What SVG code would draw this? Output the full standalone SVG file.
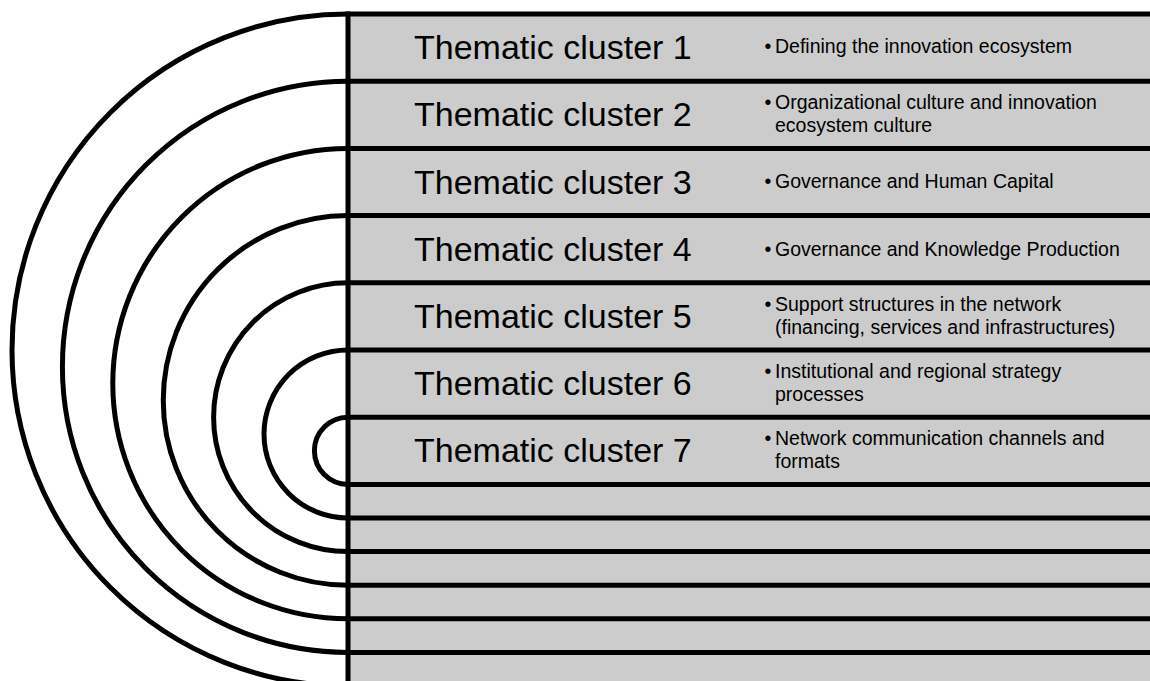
<svg xmlns="http://www.w3.org/2000/svg" width="1150" height="681" viewBox="0 0 1150 681">
<style>
.ln{stroke:#000;stroke-width:5;fill:none}
.title{font-family:"Liberation Sans",Arial,sans-serif;font-size:34px;fill:#000}
.item{font-family:"Liberation Sans",Arial,sans-serif;font-size:19.5px;fill:#000}
.bul{font-family:"Liberation Sans",Arial,sans-serif;font-size:19.5px;fill:#000;text-anchor:middle}
</style>
<rect width="1150" height="681" fill="#fff"/>
<rect x="348" y="14" width="802" height="667" fill="#cccccc"/>
<g id="connectors">
<path class="ln" d="M348,14 A336,336 0 0 0 348,686"/>
<path class="ln" d="M348,81.2 A285.6,285.6 0 0 0 348,652.4"/>
<path class="ln" d="M348,148.4 A235.2,235.2 0 0 0 348,618.8"/>
<path class="ln" d="M348,215.6 A184.8,184.8 0 0 0 348,585.2"/>
<path class="ln" d="M348,282.8 A134.4,134.4 0 0 0 348,551.6"/>
<path class="ln" d="M348,350 A84,84 0 0 0 348,518"/>
<path class="ln" d="M348,417.2 A33.6,33.6 0 0 0 348,484.4"/>
<path class="ln" d="M348,14H1150M348,81.2H1150M348,148.4H1150M348,215.6H1150M348,282.8H1150M348,350H1150M348,417.2H1150M348,484.4H1150M348,518H1150M348,551.6H1150M348,585.2H1150M348,618.8H1150M348,652.4H1150"/>
<path class="ln" d="M348,11.5V681"/>
</g>
<g id="cluster1">
<text class="title" x="414" y="59.1">Thematic cluster 1</text>
<text class="bul" x="768" y="53.4">•</text>
<text class="item" x="775" y="53.4">Defining the innovation ecosystem</text>
</g>
<g id="cluster2">
<text class="title" x="414" y="126.3">Thematic cluster 2</text>
<text class="bul" x="768" y="108.5">•</text>
<text class="item" x="775" y="108.5">Organizational culture and innovation</text>
<text class="item" x="775" y="131.8">ecosystem culture</text>
</g>
<g id="cluster3">
<text class="title" x="414" y="193.5">Thematic cluster 3</text>
<text class="bul" x="768" y="188">•</text>
<text class="item" x="775" y="188">Governance and Human Capital</text>
</g>
<g id="cluster4">
<text class="title" x="414" y="260.7">Thematic cluster 4</text>
<text class="bul" x="768" y="255.5">•</text>
<text class="item" x="775" y="255.5">Governance and Knowledge Production</text>
</g>
<g id="cluster5">
<text class="title" x="414" y="327.9">Thematic cluster 5</text>
<text class="bul" x="768" y="310.8">•</text>
<text class="item" x="775" y="310.8">Support structures in the network</text>
<text class="item" x="775" y="334.1">(financing, services and infrastructures)</text>
</g>
<g id="cluster6">
<text class="title" x="414" y="395.1">Thematic cluster 6</text>
<text class="bul" x="768" y="377.6">•</text>
<text class="item" x="775" y="377.6">Institutional and regional strategy</text>
<text class="item" x="775" y="400.8">processes</text>
</g>
<g id="cluster7">
<text class="title" x="414" y="462.3">Thematic cluster 7</text>
<text class="bul" x="768" y="444.5">•</text>
<text class="item" x="775" y="444.5">Network communication channels and</text>
<text class="item" x="775" y="467.8">formats</text>
</g>
</svg>
